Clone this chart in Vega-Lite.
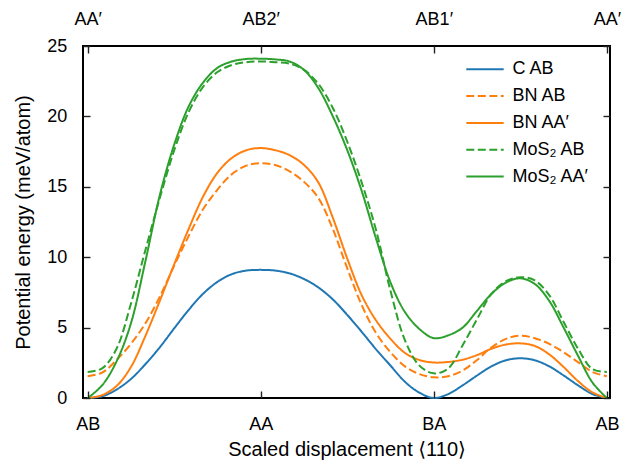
{
  "$schema": "https://vega.github.io/schema/vega-lite/v6.json",
  "width": 527,
  "height": 352,
  "autosize": {"type": "none"},
  "padding": {"left": 83, "top": 46, "right": 22, "bottom": 66},
  "background": "white",
  "config": {
    "font": "Liberation Sans",
    "view": {"stroke": "black", "strokeWidth": 2},
    "axis": {
      "domain": false, "grid": false,
      "labelFont": "Liberation Sans", "labelFontSize": 18, "labelColor": "black",
      "titleFont": "Liberation Sans, DejaVu Sans", "titleFontSize": 20, "titleFontWeight": "normal", "titleColor": "black"
    },
    "legend": {
      "orient": "none", "legendX": 392.5, "legendY": 13.8, "padding": 0,
      "symbolType": "M-2.2,0H2.2", "symbolSize": 289, "symbolStrokeWidth": 2,
      "labelFont": "Liberation Sans", "labelFontSize": 18, "labelColor": "black",
      "labelOffset": 18, "rowPadding": 7.8, "titlePadding": 0
    }
  },
  "data": {"values": [
    {"s":"C AB","x":0,"v":0},{"s":"C AB","x":0.0278,"v":0.12},{"s":"C AB","x":0.0556,"v":0.6},{"s":"C AB","x":0.0833,"v":1.35},{"s":"C AB","x":0.1111,"v":2.4},{"s":"C AB","x":0.1389,"v":3.6},{"s":"C AB","x":0.1667,"v":4.95},{"s":"C AB","x":0.1944,"v":6.25},{"s":"C AB","x":0.2222,"v":7.4},{"s":"C AB","x":0.25,"v":8.25},{"s":"C AB","x":0.2778,"v":8.8},{"s":"C AB","x":0.3056,"v":9.05},{"s":"C AB","x":0.3333,"v":9.1},{"s":"C AB","x":0.3611,"v":9.05},{"s":"C AB","x":0.3889,"v":8.85},{"s":"C AB","x":0.4167,"v":8.45},{"s":"C AB","x":0.4444,"v":7.85},{"s":"C AB","x":0.4722,"v":7.0},{"s":"C AB","x":0.5,"v":5.9},{"s":"C AB","x":0.5278,"v":4.7},{"s":"C AB","x":0.5556,"v":3.45},{"s":"C AB","x":0.5833,"v":2.3},{"s":"C AB","x":0.6111,"v":1.15},{"s":"C AB","x":0.6389,"v":0.38},{"s":"C AB","x":0.6667,"v":0},{"s":"C AB","x":0.6944,"v":0.28},{"s":"C AB","x":0.7222,"v":0.9},{"s":"C AB","x":0.75,"v":1.6},{"s":"C AB","x":0.7778,"v":2.25},{"s":"C AB","x":0.8056,"v":2.68},{"s":"C AB","x":0.8333,"v":2.82},{"s":"C AB","x":0.8611,"v":2.68},{"s":"C AB","x":0.8889,"v":2.25},{"s":"C AB","x":0.9167,"v":1.6},{"s":"C AB","x":0.9444,"v":0.9},{"s":"C AB","x":0.9722,"v":0.28},{"s":"C AB","x":1,"v":0},
    {"s":"BN AB","x":0,"v":1.55},{"s":"BN AB","x":0.0278,"v":1.8},{"s":"BN AB","x":0.0556,"v":2.7},{"s":"BN AB","x":0.0833,"v":3.85},{"s":"BN AB","x":0.1111,"v":5.3},{"s":"BN AB","x":0.1389,"v":7.2},{"s":"BN AB","x":0.1667,"v":9.4},{"s":"BN AB","x":0.1944,"v":11.5},{"s":"BN AB","x":0.2222,"v":13.4},{"s":"BN AB","x":0.25,"v":14.8},{"s":"BN AB","x":0.2778,"v":15.9},{"s":"BN AB","x":0.3056,"v":16.5},{"s":"BN AB","x":0.3333,"v":16.68},{"s":"BN AB","x":0.3611,"v":16.55},{"s":"BN AB","x":0.3889,"v":16.1},{"s":"BN AB","x":0.4167,"v":15.35},{"s":"BN AB","x":0.4444,"v":14.2},{"s":"BN AB","x":0.4722,"v":12.0},{"s":"BN AB","x":0.5,"v":9.2},{"s":"BN AB","x":0.5278,"v":6.6},{"s":"BN AB","x":0.5556,"v":4.6},{"s":"BN AB","x":0.5833,"v":3.25},{"s":"BN AB","x":0.6111,"v":2.25},{"s":"BN AB","x":0.6389,"v":1.7},{"s":"BN AB","x":0.6667,"v":1.47},{"s":"BN AB","x":0.6944,"v":1.55},{"s":"BN AB","x":0.7222,"v":1.95},{"s":"BN AB","x":0.75,"v":2.7},{"s":"BN AB","x":0.7778,"v":3.6},{"s":"BN AB","x":0.8056,"v":4.2},{"s":"BN AB","x":0.8333,"v":4.42},{"s":"BN AB","x":0.8611,"v":4.25},{"s":"BN AB","x":0.8889,"v":3.85},{"s":"BN AB","x":0.9167,"v":3.25},{"s":"BN AB","x":0.9444,"v":2.55},{"s":"BN AB","x":0.9722,"v":1.85},{"s":"BN AB","x":1,"v":1.55},
    {"s":"BN AA′","x":0,"v":0},{"s":"BN AA′","x":0.0278,"v":0.2},{"s":"BN AA′","x":0.0556,"v":0.85},{"s":"BN AA′","x":0.0833,"v":2.2},{"s":"BN AA′","x":0.1111,"v":4.4},{"s":"BN AA′","x":0.1389,"v":6.9},{"s":"BN AA′","x":0.1667,"v":9.5},{"s":"BN AA′","x":0.1944,"v":12.0},{"s":"BN AA′","x":0.2222,"v":14.3},{"s":"BN AA′","x":0.25,"v":16.0},{"s":"BN AA′","x":0.2778,"v":17.05},{"s":"BN AA′","x":0.3056,"v":17.6},{"s":"BN AA′","x":0.3333,"v":17.75},{"s":"BN AA′","x":0.3611,"v":17.6},{"s":"BN AA′","x":0.3889,"v":17.25},{"s":"BN AA′","x":0.4167,"v":16.55},{"s":"BN AA′","x":0.4444,"v":15.3},{"s":"BN AA′","x":0.4722,"v":12.8},{"s":"BN AA′","x":0.5,"v":9.9},{"s":"BN AA′","x":0.5278,"v":7.3},{"s":"BN AA′","x":0.5556,"v":5.5},{"s":"BN AA′","x":0.5833,"v":4.2},{"s":"BN AA′","x":0.6111,"v":3.2},{"s":"BN AA′","x":0.6389,"v":2.7},{"s":"BN AA′","x":0.6667,"v":2.52},{"s":"BN AA′","x":0.6944,"v":2.56},{"s":"BN AA′","x":0.7222,"v":2.72},{"s":"BN AA′","x":0.75,"v":3.05},{"s":"BN AA′","x":0.7778,"v":3.5},{"s":"BN AA′","x":0.8056,"v":3.8},{"s":"BN AA′","x":0.8333,"v":3.88},{"s":"BN AA′","x":0.8611,"v":3.7},{"s":"BN AA′","x":0.8889,"v":3.1},{"s":"BN AA′","x":0.9167,"v":2.2},{"s":"BN AA′","x":0.9444,"v":1.2},{"s":"BN AA′","x":0.9722,"v":0.4},{"s":"BN AA′","x":1,"v":0},
    {"s":"MoS₂ AB","x":0,"v":1.85},{"s":"MoS₂ AB","x":0.0278,"v":2.1},{"s":"MoS₂ AB","x":0.0556,"v":3.5},{"s":"MoS₂ AB","x":0.0833,"v":6.7},{"s":"MoS₂ AB","x":0.1111,"v":10.5},{"s":"MoS₂ AB","x":0.1389,"v":14.2},{"s":"MoS₂ AB","x":0.1667,"v":17.6},{"s":"MoS₂ AB","x":0.1944,"v":20.3},{"s":"MoS₂ AB","x":0.2222,"v":22.1},{"s":"MoS₂ AB","x":0.25,"v":23.15},{"s":"MoS₂ AB","x":0.2778,"v":23.65},{"s":"MoS₂ AB","x":0.3056,"v":23.85},{"s":"MoS₂ AB","x":0.3333,"v":23.9},{"s":"MoS₂ AB","x":0.3611,"v":23.85},{"s":"MoS₂ AB","x":0.3889,"v":23.75},{"s":"MoS₂ AB","x":0.4167,"v":23.3},{"s":"MoS₂ AB","x":0.4444,"v":22.3},{"s":"MoS₂ AB","x":0.4722,"v":20.6},{"s":"MoS₂ AB","x":0.5,"v":18.2},{"s":"MoS₂ AB","x":0.5278,"v":15.3},{"s":"MoS₂ AB","x":0.5556,"v":11.9},{"s":"MoS₂ AB","x":0.5833,"v":7.6},{"s":"MoS₂ AB","x":0.6111,"v":4.1},{"s":"MoS₂ AB","x":0.6389,"v":2.3},{"s":"MoS₂ AB","x":0.6667,"v":1.75},{"s":"MoS₂ AB","x":0.6944,"v":2.1},{"s":"MoS₂ AB","x":0.7222,"v":3.75},{"s":"MoS₂ AB","x":0.75,"v":5.6},{"s":"MoS₂ AB","x":0.7778,"v":7.4},{"s":"MoS₂ AB","x":0.8056,"v":8.3},{"s":"MoS₂ AB","x":0.8333,"v":8.58},{"s":"MoS₂ AB","x":0.8611,"v":8.35},{"s":"MoS₂ AB","x":0.8889,"v":7.3},{"s":"MoS₂ AB","x":0.9167,"v":5.4},{"s":"MoS₂ AB","x":0.9444,"v":3.5},{"s":"MoS₂ AB","x":0.9722,"v":2.05},{"s":"MoS₂ AB","x":1,"v":1.85},
    {"s":"MoS₂ AA′","x":0,"v":0},{"s":"MoS₂ AA′","x":0.0278,"v":0.9},{"s":"MoS₂ AA′","x":0.0556,"v":2.6},{"s":"MoS₂ AA′","x":0.0833,"v":5.3},{"s":"MoS₂ AA′","x":0.1111,"v":9.7},{"s":"MoS₂ AA′","x":0.1389,"v":14.4},{"s":"MoS₂ AA′","x":0.1667,"v":18.0},{"s":"MoS₂ AA′","x":0.1944,"v":20.7},{"s":"MoS₂ AA′","x":0.2222,"v":22.4},{"s":"MoS₂ AA′","x":0.25,"v":23.45},{"s":"MoS₂ AA′","x":0.2778,"v":23.9},{"s":"MoS₂ AA′","x":0.3056,"v":24.08},{"s":"MoS₂ AA′","x":0.3333,"v":24.1},{"s":"MoS₂ AA′","x":0.3611,"v":24.05},{"s":"MoS₂ AA′","x":0.3889,"v":23.9},{"s":"MoS₂ AA′","x":0.4167,"v":23.3},{"s":"MoS₂ AA′","x":0.4444,"v":22.0},{"s":"MoS₂ AA′","x":0.4722,"v":20.0},{"s":"MoS₂ AA′","x":0.5,"v":17.6},{"s":"MoS₂ AA′","x":0.5278,"v":14.7},{"s":"MoS₂ AA′","x":0.5556,"v":11.3},{"s":"MoS₂ AA′","x":0.5833,"v":8.2},{"s":"MoS₂ AA′","x":0.6111,"v":6.1},{"s":"MoS₂ AA′","x":0.6389,"v":4.9},{"s":"MoS₂ AA′","x":0.6667,"v":4.25},{"s":"MoS₂ AA′","x":0.6944,"v":4.45},{"s":"MoS₂ AA′","x":0.7222,"v":5.0},{"s":"MoS₂ AA′","x":0.75,"v":6.2},{"s":"MoS₂ AA′","x":0.7778,"v":7.4},{"s":"MoS₂ AA′","x":0.8056,"v":8.2},{"s":"MoS₂ AA′","x":0.8333,"v":8.5},{"s":"MoS₂ AA′","x":0.8611,"v":8.1},{"s":"MoS₂ AA′","x":0.8889,"v":6.9},{"s":"MoS₂ AA′","x":0.9167,"v":5.0},{"s":"MoS₂ AA′","x":0.9444,"v":3.0},{"s":"MoS₂ AA′","x":0.9722,"v":1.1},{"s":"MoS₂ AA′","x":1,"v":0}
  ]},
  "layer": [
    {
      "mark": {"type": "line", "strokeWidth": 2, "interpolate": "catmull-rom"},
      "encoding": {
        "x": {"field": "x", "type": "quantitative",
          "scale": {"domain": [-0.009, 1.006], "nice": false, "zero": false},
          "axis": {"orient": "bottom", "values": [0, 0.333333, 0.666667, 1],
            "ticks": true, "tickSize": 7, "offset": -7, "tickColor": "#222222", "tickWidth": 1.4, "zindex": 2,
            "labelExpr": "datum.value < 0.1 ? 'AB' : datum.value < 0.5 ? 'AA' : datum.value < 0.9 ? 'BA' : 'AB'",
            "labelPadding": 17.2, "title": "Scaled displacement ⟨110⟩", "titlePadding": 6.3}},
        "y": {"field": "v", "type": "quantitative",
          "scale": {"domain": [0, 25], "nice": false},
          "axis": {"orient": "left", "values": [0, 5, 10, 15, 20, 25],
            "ticks": true, "tickSize": 7, "offset": -7, "tickColor": "#222222", "tickWidth": 1.4, "zindex": 2,
            "labelPadding": 16.3, "title": "Potential energy (meV/atom)", "titlePadding": 13}},
        "color": {"field": "s", "type": "nominal",
          "scale": {"domain": ["C AB", "BN AB", "BN AA′", "MoS₂ AB", "MoS₂ AA′"],
            "range": ["#1f77b4", "#ff7f0e", "#ff7f0e", "#2ca02c", "#2ca02c"]},
          "legend": {"title": null}},
        "strokeDash": {"field": "s", "type": "nominal",
          "scale": {"domain": ["C AB", "BN AB", "BN AA′", "MoS₂ AB", "MoS₂ AA′"],
            "range": [[1, 0], [8, 3.5], [1, 0], [8, 3.5], [1, 0]]},
          "legend": {"title": null}}
      }
    },
    {
      "mark": {"type": "line", "opacity": 0},
      "encoding": {
        "x": {"field": "x", "type": "quantitative",
          "axis": {"orient": "top", "values": [0, 0.333333, 0.666667, 1],
            "ticks": true, "tickSize": 7, "offset": -7, "tickColor": "#222222", "tickWidth": 1.4, "zindex": 2,
            "labelExpr": "datum.value < 0.1 ? 'AA′' : datum.value < 0.5 ? 'AB2′' : datum.value < 0.9 ? 'AB1′' : 'AA′'",
            "labelPadding": 17.4, "title": null}},
        "y": {"field": "v", "type": "quantitative",
          "axis": {"orient": "right", "values": [0, 5, 10, 15, 20, 25], "labels": false,
            "ticks": true, "tickSize": 7, "offset": -7, "tickColor": "#222222", "tickWidth": 1.4, "zindex": 2,
            "title": null}},
        "detail": {"field": "s"}
      }
    }
  ],
  "resolve": {"axis": {"x": "independent", "y": "independent"}}
}
